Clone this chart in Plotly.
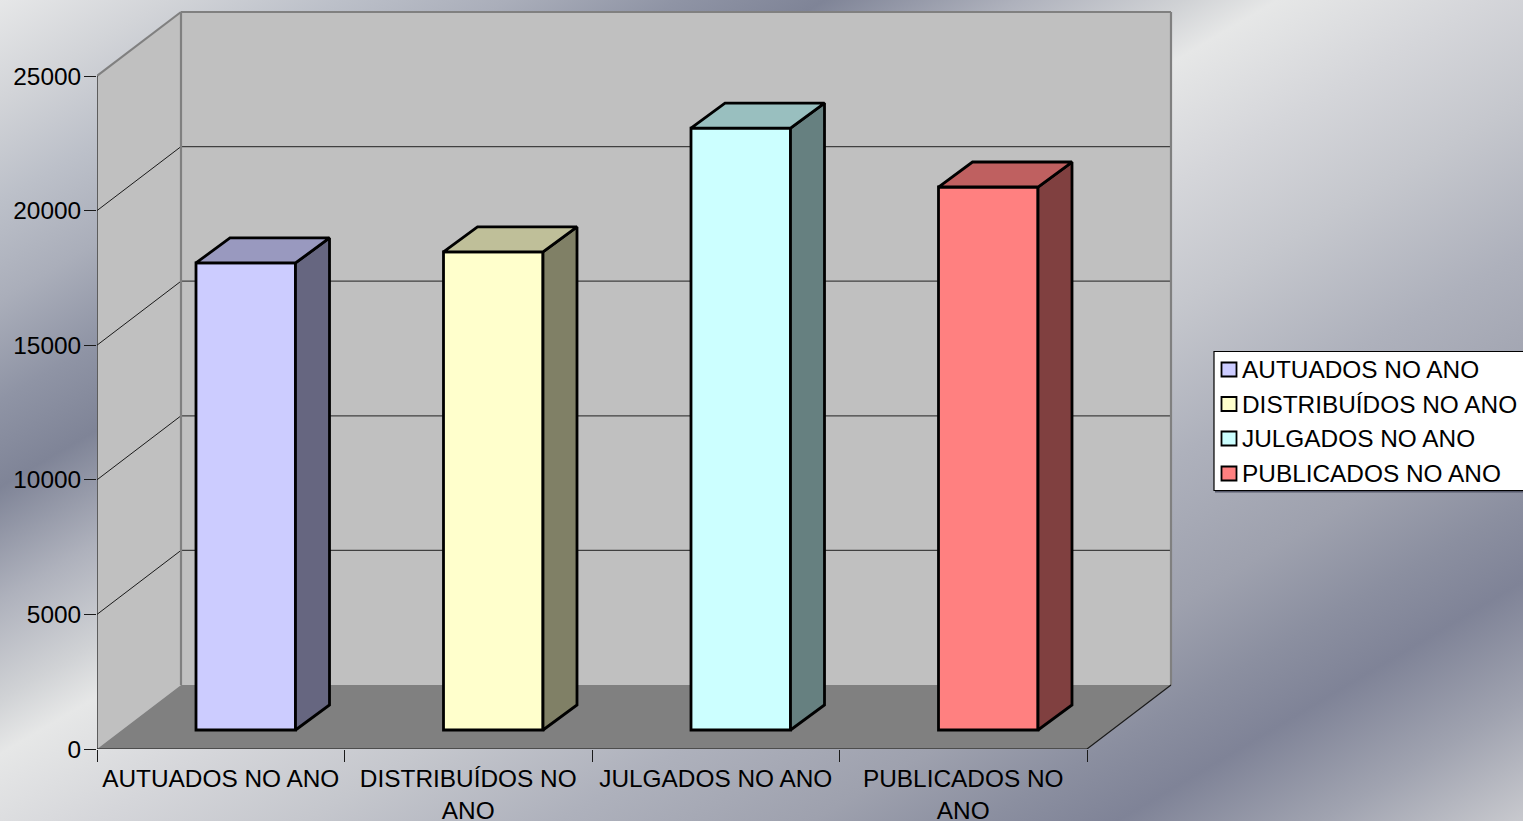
import base64
import plotly.graph_objects as go

# ---- data ----
categories = ["AUTUADOS NO ANO", "DISTRIBUÍDOS NO ANO", "JULGADOS NO ANO", "PUBLICADOS NO ANO"]
tick_labels = ["AUTUADOS NO ANO", "DISTRIBUÍDOS NO<br>ANO", "JULGADOS NO ANO", "PUBLICADOS NO<br>ANO"]
values = [17350, 17760, 22360, 20170]
y_ticks = [0, 5000, 10000, 15000, 20000, 25000]
front_colors = ["#ccccff", "#ffffcc", "#ccffff", "#ff8080"]
top_colors = ["#9999bf", "#bfbf99", "#99bfbf", "#bf6060"]
side_colors = ["#666680", "#808066", "#668080", "#804040"]

# ---- page geometry ----
W, H = 1523, 821
ML, MR, MT, MB = 97, 347, 7, 72
PX_PER_CAT = 247.5
PX_PER_UNIT = 134.6 / 5000
PW, PH = W - ML - MR, H - MT - MB
FONT_SIZE = 24.4
BAR_LINE = 2.8

def dx(px):
    return px / PX_PER_CAT

def dy(px):
    return px / PX_PER_UNIT

def paper_x(px):
    return (px - ML) / PW

def paper_y(py):
    return (H - MB - py) / PH

WALL_X, WALL_Y = dx(84), dy(64)
BAR_W = dx(99.5)
BAR_BASE = dy(19)
BAR_X_D, BAR_Y_D = dx(34), dy(25)
n = len(categories)
y_top = y_ticks[-1]

# ---- metallic backdrop: stops along the gradient direction, in page pixels ----
GRAD_T = 1720
stops = [(0, "#e6e7e8"), (100, "#d2d4d8"), (200, "#bcc0c9"), (300, "#aaaeba"), (400, "#8f94a5"), (487, "#7f8497"),
         (600, "#aeb1bc"), (700, "#d0d2d5"), (754, "#e6e7e7"), (876, "#d5d6da"), (1000, "#c5c7cd"), (1150, "#aeb1bc"),
         (1300, "#9ea1ae"), (1400, "#8b8fa0"), (1480, "#7f8397"), (1600, "#a0a3b0"), (1720, "#c8c9ce")]
stop_xml = "".join(f'<stop offset="{t / GRAD_T:.4f}" stop-color="{c}"/>' for t, c in stops)
svg = (f'<svg xmlns="http://www.w3.org/2000/svg" width="{W}" height="{H}" viewBox="0 0 {W} {H}" preserveAspectRatio="none">'
       f'<defs><linearGradient id="g" gradientUnits="userSpaceOnUse" x1="0" y1="0" x2="752.8" y2="1275.9">{stop_xml}</linearGradient></defs>'
       f'<rect width="{W}" height="{H}" fill="url(#g)"/></svg>')
bg = "data:image/svg+xml;base64," + base64.b64encode(svg.encode()).decode()

fig = go.Figure()

# ---- bars: front faces ----
for i, cat in enumerate(categories):
    fig.add_trace(go.Bar(x=[i + dx(25) + 0.5], y=[values[i]], base=[BAR_BASE], width=BAR_W,
                         marker=dict(color=front_colors[i], line=dict(color="#000000", width=BAR_LINE)),
                         name=cat, showlegend=False))

# ---- bars: top and side faces ----
for i, cat in enumerate(categories):
    x0 = i + 0.5 + dx(25) - BAR_W / 2
    x1 = x0 + BAR_W
    y0 = BAR_BASE
    y1 = BAR_BASE + values[i]
    fig.add_trace(go.Scatter(x=[x1, x1 + BAR_X_D, x1 + BAR_X_D, x1, x1],
                             y=[y0, y0 + BAR_Y_D, y1 + BAR_Y_D, y1, y0],
                             mode="lines", fill="toself", fillcolor=side_colors[i],
                             line=dict(color="#000000", width=BAR_LINE), showlegend=False, hoverinfo="skip"))
    fig.add_trace(go.Scatter(x=[x0, x0 + BAR_X_D, x1 + BAR_X_D, x1, x0],
                             y=[y1, y1 + BAR_Y_D, y1 + BAR_Y_D, y1, y1],
                             mode="lines", fill="toself", fillcolor=top_colors[i],
                             line=dict(color="#000000", width=BAR_LINE), showlegend=False, hoverinfo="skip"))

# ---- front axis lines ----
fig.add_trace(go.Scatter(x=[0, 0], y=[0, y_top], mode="lines", line=dict(color="#1a1a1a", width=1.2),
                         cliponaxis=False, showlegend=False, hoverinfo="skip"))
fig.add_trace(go.Scatter(x=[0, n, n + WALL_X], y=[0, 0, WALL_Y], mode="lines", line=dict(color="#1a1a1a", width=1.2),
                         cliponaxis=False, showlegend=False, hoverinfo="skip"))

# ---- walls and floor ----
shapes = []

def poly(xs, ys, fill, line_color=None, width=0, layer="below"):
    path = "M " + " L ".join(f"{a},{b}" for a, b in zip(xs, ys)) + " Z"
    shapes.append(dict(type="path", path=path, xref="x", yref="y", fillcolor=fill, layer=layer,
                       line=dict(color=line_color or "rgba(0,0,0,0)", width=width)))

def seg(x0, y0, x1, y1, color, width):
    shapes.append(dict(type="line", x0=x0, y0=y0, x1=x1, y1=y1, xref="x", yref="y", layer="below",
                       line=dict(color=color, width=width)))

poly([0, WALL_X, WALL_X, 0], [0, WALL_Y, y_top + WALL_Y, y_top], "#c0c0c0")
poly([WALL_X, n + WALL_X, n + WALL_X, WALL_X], [WALL_Y, WALL_Y, y_top + WALL_Y, y_top + WALL_Y], "#c0c0c0")
poly([0, n, n + WALL_X, WALL_X], [0, 0, WALL_Y, WALL_Y], "#808080")
for t in y_ticks[1:-1]:
    seg(0, t, WALL_X, t + WALL_Y, "#1a1a1a", 1)
    seg(WALL_X, t + WALL_Y, n + WALL_X, t + WALL_Y, "#404040", 1.2)
seg(WALL_X, WALL_Y, WALL_X, y_top + WALL_Y, "#808080", 2.2)
seg(n + WALL_X, WALL_Y, n + WALL_X, y_top + WALL_Y, "#808080", 2.2)
seg(WALL_X, y_top + WALL_Y, n + WALL_X, y_top + WALL_Y, "#808080", 2.2)
seg(0, y_top, WALL_X, y_top + WALL_Y, "#808080", 2.2)

# ---- legend box ----
annotations = []
LEG_L, LEG_T, LEG_B = 1214, 351.5, 490.5
shapes.append(dict(type="rect", xref="paper", yref="paper", layer="below",
                   x0=paper_x(LEG_L + 1), x1=paper_x(W + 6), y0=paper_y(LEG_B + 2), y1=paper_y(LEG_T + 2),
                   fillcolor="#55586a", line=dict(width=0)))
shapes.append(dict(type="rect", xref="paper", yref="paper", layer="below",
                   x0=paper_x(LEG_L), x1=paper_x(W + 6), y0=paper_y(LEG_B), y1=paper_y(LEG_T),
                   fillcolor="#ffffff", line=dict(color="#000000", width=1.2)))
row_y = [369.5, 404, 438.5, 473.5]
for i, cat in enumerate(categories):
    shapes.append(dict(type="rect", xref="paper", yref="paper",
                       x0=paper_x(1221.5), x1=paper_x(1236.5), y0=paper_y(row_y[i] + 7), y1=paper_y(row_y[i] - 7),
                       fillcolor=front_colors[i], line=dict(color="#000000", width=1.8)))
    annotations.append(dict(text=cat, xref="paper", yref="paper", x=paper_x(1240), y=paper_y(row_y[i]),
                            xanchor="left", yanchor="middle", showarrow=False,
                            font=dict(family="Liberation Sans", size=FONT_SIZE, color="#000000")))

fig.update_layout(
    width=W, height=H, autosize=False,
    margin=dict(l=ML, r=MR, t=MT, b=MB, pad=0, autoexpand=False),
    paper_bgcolor="#b0b3bf", plot_bgcolor="rgba(0,0,0,0)",
    barmode="overlay", showlegend=False,
    font=dict(family="Liberation Sans", size=FONT_SIZE, color="#000000"),
    shapes=shapes, annotations=annotations,
    images=[dict(source=bg, xref="paper", yref="paper", x=paper_x(0), y=paper_y(0),
                 sizex=W / PW, sizey=H / PH, sizing="stretch", xanchor="left", yanchor="top", layer="below")],
    xaxis=dict(range=[0, PW / PX_PER_CAT], showgrid=False, zeroline=False, showline=False, automargin=False,
               tickmode="array", tickvals=[i + 0.5 for i in range(n)], ticktext=tick_labels,
               ticks="outside", ticklen=8, tickcolor="rgba(0,0,0,0)", tickangle=0,
               tickfont=dict(size=FONT_SIZE, family="Liberation Sans", color="#000000"),
               minor=dict(tickmode="array", tickvals=list(range(n + 1)), ticks="outside", ticklen=12,
                          tickcolor="#1a1a1a", tickwidth=1.2, showgrid=False)),
    yaxis=dict(range=[0, PH / PX_PER_UNIT], showgrid=False, zeroline=False, showline=False, automargin=False,
               tickmode="array", tickvals=y_ticks, ticks="outside", ticklen=12, tickwidth=1.2,
               tickcolor="#1a1a1a", tickformat="d", ticklabelstandoff=-2,
               tickfont=dict(size=FONT_SIZE, family="Liberation Sans", color="#000000")),
)

fig.write_html("out.html", config={"displayModeBar": False},
               post_script="document.body.style.margin='0';document.body.style.overflow='hidden';")
